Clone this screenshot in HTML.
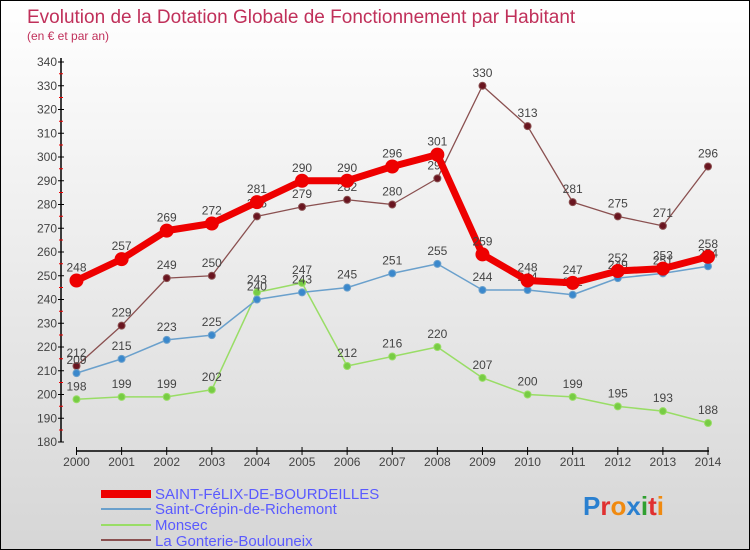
<!DOCTYPE html>
<html><head><meta charset="utf-8"><style>
body{margin:0;}
#c{width:750px;height:550px;position:relative;overflow:hidden;box-sizing:border-box;border:1px solid #000;background:linear-gradient(#ffffff,#d6d6d6);font-family:"Liberation Sans",sans-serif;}
svg text{font-family:"Liberation Sans",sans-serif;}
</style></head><body>
<div id="c">
<svg id="s" width="750" height="550">
<text x="26" y="22" font-size="19" fill="#c0305a">Evolution de la Dotation Globale de Fonctionnement par Habitant</text>
<text x="26" y="39" font-size="12" fill="#c0305a">(en € et par an)</text>
<g id="axes"></g><g id="series"></g>
<g>
<rect x="100" y="489" width="50" height="8" fill="#ee0000"/>
<text x="154" y="498" font-size="15" fill="#5a5aff">SAINT-FéLIX-DE-BOURDEILLES</text>
<rect x="100" y="507" width="50" height="2" fill="#6aa0cc"/>
<text x="154" y="513" font-size="15" fill="#5a5aff">Saint-Crépin-de-Richemont</text>
<rect x="100" y="523" width="50" height="2" fill="#99dd66"/>
<text x="154" y="529" font-size="15" fill="#5a5aff">Monsec</text>
<rect x="100" y="538" width="50" height="2" fill="#8a5050"/>
<text x="154" y="545" font-size="15" fill="#5a5aff">La Gonterie-Boulouneix</text>
</g>
<text x="582" y="514" font-size="26" font-weight="bold"><tspan fill="#2a80d0">P</tspan><tspan fill="#e03030">r</tspan><tspan fill="#f08a10">o</tspan><tspan fill="#2a80d0">x</tspan><tspan fill="#30a030">i</tspan><tspan fill="#e03030">t</tspan><tspan fill="#f08a10">i</tspan></text>
</svg></div>
<script>
const years=[2000,2001,2002,2003,2004,2005,2006,2007,2008,2009,2010,2011,2012,2013,2014];
const yTicks=[180,190,200,210,220,230,240,250,260,270,280,290,300,310,320,330,340];
const felix=[248,257,269,272,281,290,290,296,301,259,248,247,252,253,258];
const crepin=[209,215,223,225,240,243,245,251,255,244,244,242,249,251,254];
const monsec=[198,199,199,202,243,247,212,216,220,207,200,199,195,193,188];
const gonterie=[212,229,249,250,275,279,282,280,291,330,313,281,275,271,296];
const NS="http://www.w3.org/2000/svg";
function xS(i){return 75.5+i*(707-75.5)/(years.length-1);}
function yS(v){return 441-(v-180)*(441-61)/160;}
function mk(t,a,p){const e=document.createElementNS(NS,t);for(const k in a)e.setAttribute(k,a[k]);p.appendChild(e);return e;}
const ax=document.getElementById('axes');
let e=mk('line',{x1:60,y1:57,x2:60,y2:441,stroke:'#000','stroke-width':1.5},ax);


e=mk('line',{x1:75,y1:450,x2:708,y2:450,stroke:'#000','stroke-width':1.5},ax);


yTicks.forEach(v=>{
 const y=yS(v);
 mk('line',{x1:57,y1:y,x2:63,y2:y,stroke:'#000'},ax);
 if(v<340)mk('line',{x1:58,y1:y-12,x2:62,y2:y-12,stroke:'#e00'},ax);
 const t=mk('text',{x:56,y:y+4,'font-size':12,fill:'#444','text-anchor':'end'},ax);t.textContent=v;
 
 
});
years.forEach((yr,i)=>{
 const x=xS(i);
 mk('line',{x1:x,y1:446,x2:x,y2:454,stroke:'#000'},ax);
 const t=mk('text',{x:x,y:465,'font-size':12,fill:'#444','text-anchor':'middle'},ax);t.textContent=yr;
 
 
});
const sg=document.getElementById('series');
function draw(vals,color,dot,w,r,name){
 const g=mk('g',{},sg);
 
 
 const pts=vals.map((v,i)=>xS(i)+','+yS(v)).join(' ');
 mk('polyline',{points:pts,fill:'none',stroke:color,'stroke-width':w,'stroke-linejoin':'round'},g);
 vals.forEach((v,i)=>{
  const c=mk('circle',{cx:xS(i),cy:yS(v),r:r,fill:dot,stroke:color,'stroke-width':1},g);
  
  
  const t=mk('text',{x:xS(i),y:yS(v)-9,'font-size':12,fill:'#444','text-anchor':'middle'},g);t.textContent=v;
  
  
 });
}
draw(gonterie,'#8a5050','#6a1520',1.3,3.5,'series-la-gonterie');
draw(monsec,'#99dd66','#77cc44',1.5,3.5,'series-monsec');
draw(crepin,'#6aa0cc','#3a88cc',1.5,3.5,'series-saint-crepin');
draw(felix,'#ee0000','#ee0000',7,6.5,'series-saint-felix');
</script>
</body></html>
